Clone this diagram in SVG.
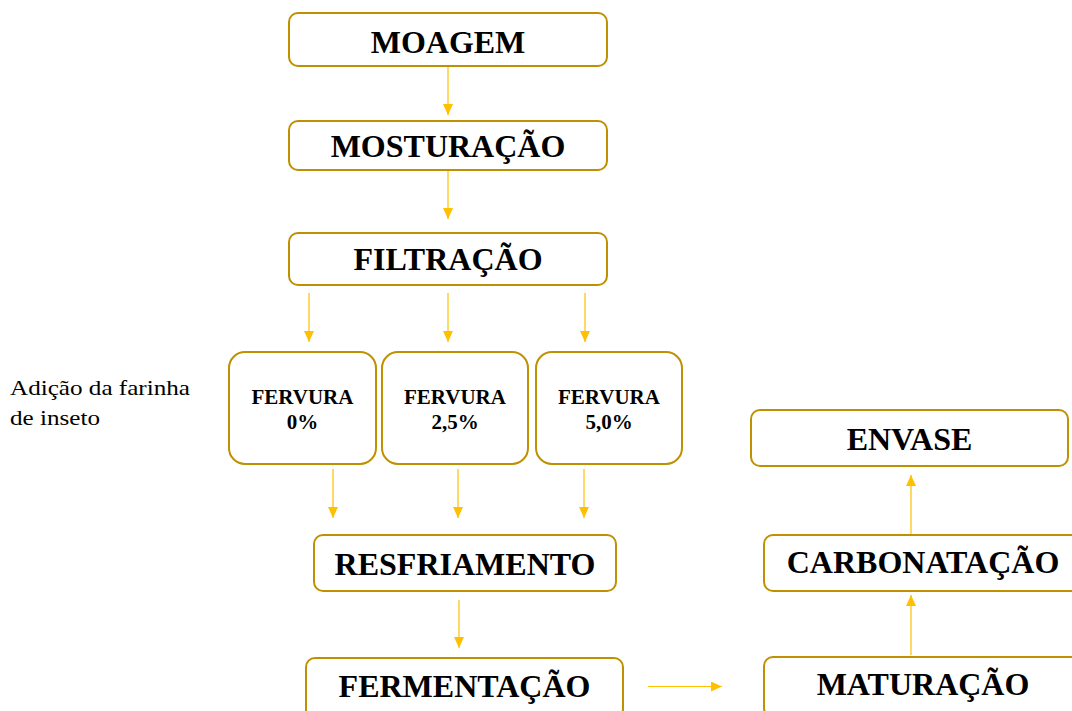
<svg xmlns="http://www.w3.org/2000/svg" width="1072" height="711" viewBox="0 0 1072 711">
<style>
.box{fill:#fff;stroke:#BF9000;stroke-width:2}
text{font-family:'Liberation Serif',serif;fill:#000}
.t{font-weight:bold;font-size:32px;text-anchor:middle}
.ts{font-weight:bold;font-size:21px;text-anchor:middle}
.lbl{font-size:22px}
.c{stroke:#FFC000;stroke-width:1.2;fill:none;marker-end:url(#ah)}
</style>
<defs>
<marker id="ah" markerUnits="userSpaceOnUse" markerWidth="11" markerHeight="10" refX="11" refY="5" orient="auto">
<path d="M0,0 L11,5 L0,10 Z" fill="#FFC000"/>
</marker>
</defs>
<rect width="1072" height="711" fill="#fff"/>
<g id="connectors">
<line class="c" x1="448" y1="67" x2="448" y2="115"/>
<line class="c" x1="448" y1="171" x2="448" y2="219"/>
<line class="c" x1="309" y1="293" x2="309" y2="342"/>
<line class="c" x1="448" y1="293" x2="448" y2="342"/>
<line class="c" x1="585" y1="293" x2="585" y2="342"/>
<line class="c" x1="333" y1="469" x2="333" y2="518"/>
<line class="c" x1="458" y1="469" x2="458" y2="518"/>
<line class="c" x1="584" y1="469" x2="584" y2="518"/>
<line class="c" x1="459" y1="600" x2="459" y2="648"/>
<line class="c" x1="648" y1="686.5" x2="722" y2="686.5"/>
<line class="c" x1="911" y1="655" x2="911" y2="595"/>
<line class="c" x1="911" y1="535" x2="911" y2="475"/>
</g>
<g id="moagem"><rect class="box" x="289" y="13" width="318" height="53" rx="9"/><text class="t" x="448" y="53">MOAGEM</text></g>
<g id="mosturacao"><rect class="box" x="289" y="121" width="318" height="49" rx="9"/><text class="t" x="448" y="157">MOSTURAÇÃO</text></g>
<g id="filtracao"><rect class="box" x="289" y="233" width="318" height="52" rx="9"/><text class="t" x="448" y="270">FILTRAÇÃO</text></g>
<g id="label-adicao"><text class="lbl" x="10" y="395" textLength="180" lengthAdjust="spacingAndGlyphs">Adição da farinha</text><text class="lbl" x="10" y="425" textLength="90" lengthAdjust="spacingAndGlyphs">de inseto</text></g>
<g id="fervura0"><rect class="box" x="229" y="352" width="147" height="112" rx="16"/><text class="ts" x="302.5" y="404">FERVURA</text><text class="ts" x="302.5" y="429">0%</text></g>
<g id="fervura25"><rect class="box" x="382" y="352" width="146" height="112" rx="16"/><text class="ts" x="455" y="404">FERVURA</text><text class="ts" x="455" y="429">2,5%</text></g>
<g id="fervura50"><rect class="box" x="536" y="352" width="146" height="112" rx="16"/><text class="ts" x="609" y="404">FERVURA</text><text class="ts" x="609" y="429">5,0%</text></g>
<g id="resfriamento"><rect class="box" x="314" y="535" width="302" height="56" rx="9"/><text class="t" x="465" y="575">RESFRIAMENTO</text></g>
<g id="fermentacao"><rect class="box" x="306" y="658" width="317" height="60" rx="9"/><text class="t" x="464.5" y="697">FERMENTAÇÃO</text></g>
<g id="maturacao"><rect class="box" x="764" y="657" width="318" height="60" rx="9"/><text class="t" x="923" y="695">MATURAÇÃO</text></g>
<g id="carbonatacao"><rect class="box" x="764" y="535" width="318" height="56" rx="9"/><text class="t" x="923" y="573">CARBONATAÇÃO</text></g>
<g id="envase"><rect class="box" x="751" y="410" width="317" height="56" rx="9"/><text class="t" x="909.5" y="450">ENVASE</text></g>
</svg>
